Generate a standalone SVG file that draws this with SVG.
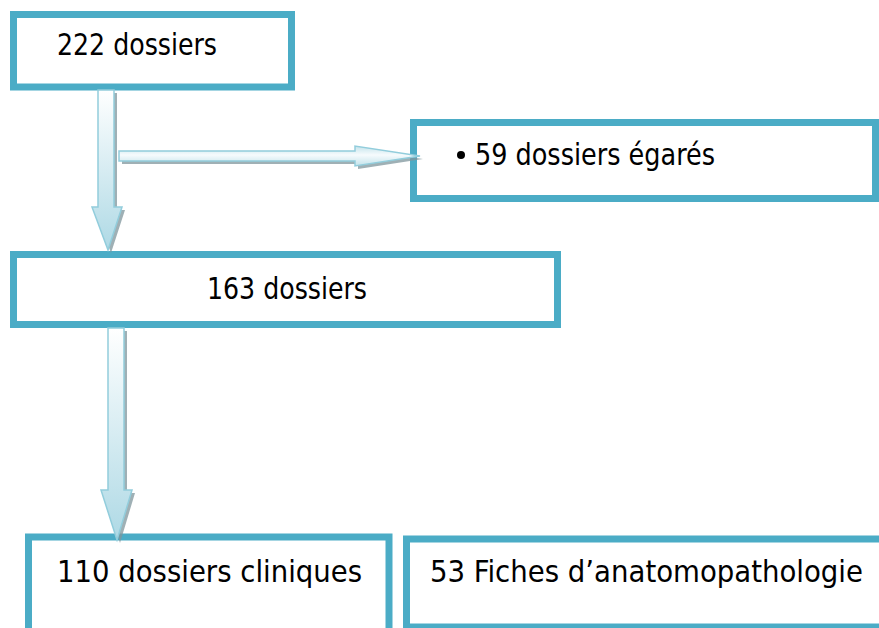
<svg xmlns="http://www.w3.org/2000/svg" width="879" height="628" viewBox="0 0 879 628">
  <defs>
    <linearGradient id="gv" x1="0" y1="0" x2="0" y2="1">
      <stop offset="0" stop-color="#ffffff"/>
      <stop offset="1" stop-color="#aed9e5"/>
    </linearGradient>
    <linearGradient id="gh" x1="0" y1="0" x2="0" y2="1">
      <stop offset="0" stop-color="#c4e3eb"/>
      <stop offset="0.45" stop-color="#f6fbfd"/>
      <stop offset="1" stop-color="#c2e2ea"/>
    </linearGradient>
    <style>
      .box { fill: #ffffff; stroke: #4bacc6; stroke-width: 7; }
      .lbl { font-family: "DejaVu Sans Condensed", "DejaVu Sans", "Liberation Sans", sans-serif; font-size: 30px; fill: #000000; }
      .shadow { fill: #7f959c; opacity: 0.75; }
      .arrv { fill: url(#gv); stroke: #92cddc; stroke-width: 1.5; stroke-linejoin: miter; }
      .arrh { fill: url(#gh); stroke: #92cddc; stroke-width: 1.5; stroke-linejoin: miter; }
    </style>
  </defs>
  <rect width="879" height="628" fill="#ffffff"/>

  <g id="node-222">
    <rect class="box" x="13.5" y="14.5" width="278" height="72.5"/>
    <text class="lbl" x="57" y="55" textLength="160" lengthAdjust="spacingAndGlyphs">222 dossiers</text>
  </g>

  <g id="node-59">
    <rect class="box" x="413.5" y="122.5" width="462" height="76"/>
    <circle cx="461" cy="155" r="4" fill="#000000"/>
    <text class="lbl" x="475" y="165" textLength="240" lengthAdjust="spacingAndGlyphs">59 dossiers égarés</text>
  </g>

  <g id="node-163">
    <rect class="box" x="13.5" y="254.5" width="544" height="70"/>
    <text class="lbl" x="207" y="299" textLength="160" lengthAdjust="spacingAndGlyphs">163 dossiers</text>
  </g>

  <g id="node-110">
    <rect class="box" x="28.5" y="537" width="360.5" height="110"/>
    <text class="lbl" x="57" y="582" textLength="305" lengthAdjust="spacingAndGlyphs">110 dossiers cliniques</text>
  </g>

  <g id="node-53">
    <rect class="box" x="406.5" y="539" width="490" height="88"/>
    <text class="lbl" x="430" y="582" textLength="433" lengthAdjust="spacingAndGlyphs">53 Fiches d’anatomopathologie</text>
  </g>

  <g id="connectors">
    <polygon class="shadow" points="101,93 117,93 117,210 125,210 111,253 95,210 101,210"/>
    <polygon class="arrv" points="98,90 114,90 114,207 122,207 108,250 92,207 98,207"/>

    <polygon class="shadow" points="122,154 358,154 358,149 423,159 358,169 358,164 122,164"/>
    <polygon class="arrh" points="119,151 355,151 355,146 420,156 355,166 355,161 119,161"/>

    <polygon class="shadow" points="111,331 127,331 127,493 135,493 120,543 104,493 111,493"/>
    <polygon class="arrv" points="108,328 124,328 124,490 132,490 117,540 101,490 108,490"/>
  </g>
</svg>
